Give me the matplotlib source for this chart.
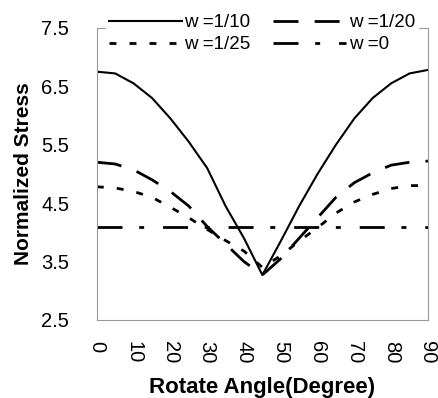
import matplotlib
matplotlib.use("Agg")
import matplotlib.pyplot as plt
import numpy as np

plt.rcParams['font.family'] = ['Liberation Sans', 'DejaVu Sans']

angle = [0, 5, 10, 15, 20, 25, 30, 35, 40, 45, 50, 55, 60, 65, 70, 75, 80, 85, 90]

# normalized stress for each width
w_10 = [6.75, 6.72, 6.55, 6.30, 5.95, 5.55, 5.10, 4.45, 3.90, 3.27,
        3.85, 4.45, 5.00, 5.50, 5.95, 6.30, 6.55, 6.72, 6.78]
w_20 = [5.20, 5.17, 5.07, 4.90, 4.70, 4.45, 4.10, 3.80, 3.50, 3.27,
        3.55, 3.90, 4.25, 4.60, 4.85, 5.02, 5.15, 5.20, 5.22]
w_25 = [4.78, 4.76, 4.70, 4.60, 4.43, 4.25, 4.05, 3.86, 3.68, 3.40,
        3.60, 3.85, 4.08, 4.33, 4.52, 4.65, 4.75, 4.80, 4.80]
w_0 = [4.10] * len(angle)

fig = plt.figure(figsize=(4.38, 3.98), dpi=100)
ax = fig.add_axes([0.221, 0.196, 0.756, 0.734])

l10, = ax.plot(angle, w_10, color='black', lw=1.5, ls='-', label='w =1/10')
l20, = ax.plot(angle, w_20, color='black', lw=2.0, ls=(0, (9, 5.8)), label='w =1/20')
l25, = ax.plot(angle, w_25, color='black', lw=2.0, ls=(0, (2.5, 4.7)), label='w =1/25')
l0, = ax.plot(angle, w_0, color='black', lw=2.0, ls=(0, (9, 6, 1.8, 6.8)), label='w =0')

ax.set_xlim(0, 90)
ax.set_ylim(2.5, 7.5)
ax.set_xticks(np.arange(0, 91, 10))
ax.set_yticks([2.5, 3.5, 4.5, 5.5, 6.5, 7.5])
ax.set_xticklabels([str(v) for v in range(0, 91, 10)], rotation=-90)
ax.tick_params(length=0, labelsize=14.5)
ax.tick_params(axis='y', pad=20)
ax.tick_params(axis='x', pad=15)
for s in ax.spines.values():
    s.set_color('#999999')
    s.set_linewidth(0.8)

ax.set_xlabel('Rotate Angle(Degree)', fontsize=16, fontweight='bold', labelpad=10)
ax.set_ylabel('Normalized Stress', fontsize=15, fontweight='bold', labelpad=6)

# row-wise order: 1/10, 1/20 on top, 1/25, 0 below
leg = ax.legend([l10, l25, l20, l0], ['w =1/10', 'w =1/25', 'w =1/20', 'w =0'],
                ncol=2, loc='upper left', bbox_to_anchor=(0.22, 0.995),
                bbox_transform=fig.transFigure,
                frameon=True, fontsize=13.5, handlelength=3.9, columnspacing=1.2,
                handletextpad=0.15, labelspacing=0.25, borderpad=0.15)
leg.get_frame().set_edgecolor('white')
leg.get_frame().set_facecolor('white')
leg.get_frame().set_alpha(1)

fig.savefig('out.png', dpi=100)
